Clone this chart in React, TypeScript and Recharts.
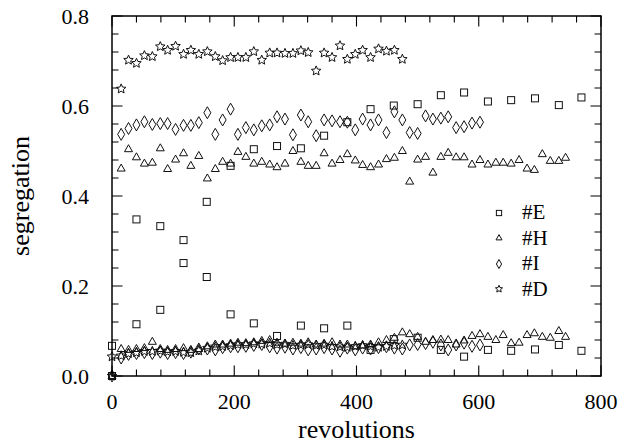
import { ScatterChart, Scatter, XAxis, YAxis, Legend } from 'recharts';

// revolution grid shared by #H, #I, #D
const revs = [
  15, 27, 40, 53, 66, 79, 91, 104, 117, 129, 142, 156, 169, 181, 194, 206, 219, 232, 245, 258,
  270, 283, 296, 309, 321, 334, 347, 360, 373, 385, 398, 410, 423, 436, 449, 462, 475, 487, 500, 513,
  525, 538, 550, 563, 576, 589, 602, 615, 628, 640, 653, 666, 679, 691, 704, 717, 731, 742,
];

const dHigh = [
  0.638, 0.702, 0.695, 0.712, 0.71, 0.732, 0.724, 0.733, 0.715, 0.724, 0.715, 0.721, 0.71, 0.701,
  0.708, 0.708, 0.708, 0.721, 0.702, 0.718, 0.718, 0.717, 0.717, 0.723, 0.719, 0.678, 0.718, 0.708,
  0.734, 0.704, 0.715, 0.724, 0.708, 0.727, 0.722, 0.724, 0.704,
];
const dLow = [
  0.045, 0.05, 0.052, 0.055, 0.055, 0.056, 0.054, 0.055, 0.053, 0.052, 0.056, 0.062, 0.065, 0.066,
  0.068, 0.07, 0.07, 0.072, 0.071, 0.073, 0.07, 0.071, 0.068, 0.069, 0.07, 0.068, 0.069, 0.066,
  0.065, 0.064, 0.066, 0.068, 0.066, 0.064, 0.066, 0.068, 0.069,
];

const iHigh = [
  0.537, 0.55, 0.558, 0.565, 0.559, 0.561, 0.561, 0.548, 0.557, 0.557, 0.563, 0.585, 0.537, 0.569,
  0.593, 0.537, 0.552, 0.547, 0.556, 0.558, 0.576, 0.571, 0.536, 0.58, 0.565, 0.534, 0.569, 0.567,
  0.565, 0.564, 0.547, 0.571, 0.558, 0.569, 0.541, 0.587, 0.569, 0.541, 0.539, 0.578, 0.571, 0.573,
  0.576, 0.552, 0.554, 0.562, 0.564,
];
const iLow = [
  0.04, 0.048, 0.05, 0.052, 0.05, 0.053, 0.05, 0.052, 0.05, 0.053, 0.06, 0.06, 0.058, 0.063, 0.065,
  0.065, 0.066, 0.068, 0.07, 0.065, 0.062, 0.064, 0.06, 0.063, 0.058, 0.06, 0.063, 0.06, 0.055,
  0.062, 0.058, 0.062, 0.06, 0.063, 0.065, 0.062, 0.06, 0.069, 0.07, 0.072, 0.075, 0.069, 0.058,
  0.069, 0.073, 0.066, 0.069,
];

const hHigh = [
  0.461, 0.504, 0.486, 0.472, 0.474, 0.506, 0.46, 0.481, 0.495, 0.467, 0.489, 0.439, 0.46, 0.476,
  0.472, 0.498, 0.487, 0.472, 0.476, 0.47, 0.464, 0.472, 0.5, 0.476, 0.467, 0.467, 0.495, 0.472,
  0.48, 0.493, 0.479, 0.469, 0.464, 0.47, 0.482, 0.485, 0.5, 0.432, 0.481, 0.487, 0.452, 0.487,
  0.496, 0.486, 0.486, 0.47, 0.48, 0.47, 0.474, 0.474, 0.472, 0.48, 0.461, 0.458, 0.493, 0.478,
  0.478, 0.485,
];
const hLow = [
  0.06, 0.058, 0.06, 0.062, 0.076, 0.06, 0.058, 0.06, 0.062, 0.058, 0.06, 0.066, 0.07, 0.07, 0.072,
  0.074, 0.073, 0.075, 0.078, 0.08, 0.074, 0.072, 0.074, 0.072, 0.075, 0.07, 0.072, 0.075, 0.07,
  0.07, 0.066, 0.068, 0.07, 0.075, 0.08, 0.085, 0.097, 0.093, 0.087, 0.076, 0.08, 0.081, 0.08, 0.07,
  0.079, 0.089, 0.093, 0.087, 0.08, 0.091, 0.073, 0.074, 0.091, 0.095, 0.087, 0.085, 0.1, 0.087,
];

// #E sampled on its own coarser grid
const eRevs = [
  0, 40, 79, 117, 155, 194, 232, 270, 309, 347, 385, 423, 461, 500, 538, 576, 615, 653, 692, 731, 768,
];
const eHigh = [
  null, 0.348, 0.333, 0.302, 0.387, 0.467, 0.504, 0.511, 0.506, 0.534, 0.564, 0.593, 0.601, 0.604,
  0.624, 0.63, 0.61, 0.613, 0.617, 0.602, 0.619,
];
const eLow = [
  0.067, 0.115, 0.147, 0.251, 0.22, 0.137, 0.117, 0.089, 0.112, 0.106, 0.112, 0.058, 0.082, 0.085,
  0.058, 0.043, 0.058, 0.056, 0.059, 0.069, 0.056,
];

// values at revolution 0
const startE = [0];
const startH = [0];
const startI = [0];
const startD = [0, 0.043];

const legendNames = ['#E', '#H', '#I', '#D'];
const xTicks = [0, 200, 400, 600, 800];
const yTicks = [0, 0.2, 0.4, 0.6, 0.8];
const xAllTicks = [
  0, 40, 80, 120, 160, 200, 240, 280, 320, 360, 400, 440, 480, 520, 560, 600, 640, 680, 720, 760, 800,
];
const yAllTicks = [
  0, 0.04, 0.08, 0.12, 0.16, 0.2, 0.24, 0.28, 0.32, 0.36, 0.4, 0.44, 0.48, 0.52, 0.56, 0.6, 0.64,
  0.68, 0.72, 0.76, 0.8,
];

const font = "'Liberation Serif', 'Times New Roman', serif";
const tickStyle = { fontFamily: font, fontSize: 22, fill: '#000' };
const PLOT_W = 489;
const PLOT_H = 360;
const X_MARGIN = 17;
const Y_MARGIN = 23;

type Pt = { rev: number; seg: number };

const zip = (xs: number[], ys: (number | null)[]): Pt[] =>
  ys
    .map((y, i) => ({ rev: xs[i], seg: y }))
    .filter((p) => p.seg !== null) as Pt[];

const atZero = (ys: number[]): Pt[] => ys.map((y) => ({ rev: 0, seg: y }));

const seriesE = [...atZero(startE), ...zip(eRevs, eHigh), ...zip(eRevs, eLow)];
const seriesH = [...atZero(startH), ...zip(revs, hHigh), ...zip(revs, hLow)];
const seriesI = [...atZero(startI), ...zip(revs, iHigh), ...zip(revs, iLow)];
const seriesD = [...atZero(startD), ...zip(revs, dHigh), ...zip(revs, dLow)];

const kinds: Record<string, string> = { '#E': 'square', '#H': 'triangle', '#I': 'diamond', '#D': 'star' };

const Marker = ({ kind, cx, cy, s = 1 }: { kind: string; cx: number; cy: number; s?: number }) => {
  const common = { fill: 'none', stroke: '#111', strokeWidth: 1 };
  if (kind === 'square') {
    return <rect x={cx - 3.5 * s} y={cy - 3.5 * s} width={7 * s} height={7 * s} {...common} />;
  }
  if (kind === 'triangle') {
    return (
      <path
        d={`M${cx},${cy - 4.5 * s} L${cx + 4 * s},${cy + 2.5 * s} L${cx - 4 * s},${cy + 2.5 * s} Z`}
        {...common}
      />
    );
  }
  if (kind === 'diamond') {
    return (
      <path
        d={`M${cx},${cy - 6 * s} L${cx + 3.5 * s},${cy} L${cx},${cy + 6 * s} L${cx - 3.5 * s},${cy} Z`}
        {...common}
      />
    );
  }
  const pts: string[] = [];
  for (let k = 0; k < 10; k++) {
    const r = k % 2 === 0 ? 5 * s : 2.3 * s;
    const a = -Math.PI / 2 + (k * Math.PI) / 5;
    pts.push(`${cx + r * Math.cos(a)},${cy + r * Math.sin(a)}`);
  }
  return <polygon points={pts.join(' ')} {...common} />;
};

const LegendBox = () => (
  <div style={{ fontFamily: font, fontSize: 21, color: '#000', lineHeight: 1 }}>
    {legendNames.map((name) => (
      <div key={name} style={{ display: 'flex', alignItems: 'center', height: 25.5 }}>
        <svg width={22} height={20} style={{ marginRight: 11 }}>
          <Marker kind={kinds[name]} cx={10} cy={10} s={0.75} />
        </svg>
        <span>{name}</span>
      </div>
    ))}
  </div>
);

const YLabel = ({ viewBox }: any) => {
  const x = viewBox.x + 20;
  const y = viewBox.y + viewBox.height / 2;
  return (
    <text
      x={x}
      y={y}
      transform={`rotate(-90, ${x}, ${y})`}
      textAnchor='middle'
      dominantBaseline='central'
      style={{ fontFamily: font, fontSize: 26, fill: '#000' }}
    >
      segregation
    </text>
  );
};

// frame plus all inward tick marks, drawn once from the tick at revolution 0
const Frame = ({ x0, yb }: { x0: number; yb: number }) => {
  const yt = yb - PLOT_H;
  const xr = x0 + PLOT_W;
  let d = '';
  xAllTicks.forEach((t) => {
    const len = xTicks.includes(t) ? 10.5 : 6.5;
    const x = x0 + (t / 800) * PLOT_W;
    d += `M${x},${yb}V${yb - len}M${x},${yt}V${yt + len}`;
  });
  yAllTicks.forEach((t) => {
    const len = yTicks.includes(t) ? 10.5 : 6.5;
    const y = yb - (t / 0.8) * PLOT_H;
    d += `M${x0},${y}H${x0 + len}M${xr},${y}H${xr - len}`;
  });
  return (
    <g>
      <path d={d} fill='none' stroke='#000' strokeWidth={1.1} />
      <rect x={x0} y={yt} width={PLOT_W} height={PLOT_H} fill='none' stroke='#000' strokeWidth={1.5} />
    </g>
  );
};

const XTick = (p: any) => {
  const v = p.payload.value;
  const x = Number(p.x);
  const yb = Number(p.y) - X_MARGIN;
  return (
    <g>
      {v === 0 && <Frame x0={x} yb={yb} />}
      {xTicks.includes(v) && (
        <text x={x} y={p.y} dy='0.71em' textAnchor='middle' style={tickStyle}>
          {v}
        </text>
      )}
    </g>
  );
};

const YTick = (p: any) => {
  const v = p.payload.value;
  if (!yTicks.includes(v)) return <g />;
  return (
    <text x={p.x} y={p.y} dy='0.355em' textAnchor='end' style={tickStyle}>
      {v.toFixed(1)}
    </text>
  );
};

const App = () => {
  return (
    <div style={{ position: 'absolute', left: 0, top: 0, width: 630, height: 444, background: '#fff' }}>
      <ScatterChart width={630} height={444} margin={{ top: 16, right: 29, left: 0, bottom: 0 }}>
        <XAxis
          type='number'
          dataKey='rev'
          domain={[0, 800]}
          ticks={xAllTicks}
          interval={0}
          tickLine={false}
          axisLine={false}
          tickSize={0}
          tickMargin={X_MARGIN}
          height={68}
          tick={<XTick />}
          label={{
            value: 'revolutions',
            position: 'insideBottom',
            offset: 6,
            style: { fontFamily: font, fontSize: 26, fill: '#000' },
          }}
        />
        <YAxis
          type='number'
          dataKey='seg'
          domain={[0, 0.8]}
          ticks={yAllTicks}
          interval={0}
          tickLine={false}
          axisLine={false}
          tickSize={0}
          tickMargin={Y_MARGIN}
          width={112}
          tick={<YTick />}
          label={<YLabel />}
        />
        <Legend
          layout='vertical'
          align='center'
          verticalAlign='middle'
          content={<LegendBox />}
          wrapperStyle={{ position: 'absolute', left: 489, top: 200, width: 100 }}
        />
        <Scatter
          name='#E'
          data={seriesE}
          isAnimationActive={false}
          shape={(p: any) => <Marker kind='square' cx={p.cx} cy={p.cy} />}
        />
        <Scatter
          name='#H'
          data={seriesH}
          isAnimationActive={false}
          shape={(p: any) => <Marker kind='triangle' cx={p.cx} cy={p.cy} />}
        />
        <Scatter
          name='#I'
          data={seriesI}
          isAnimationActive={false}
          shape={(p: any) => <Marker kind='diamond' cx={p.cx} cy={p.cy} />}
        />
        <Scatter
          name='#D'
          data={seriesD}
          isAnimationActive={false}
          shape={(p: any) => <Marker kind='star' cx={p.cx} cy={p.cy} />}
        />
      </ScatterChart>
    </div>
  );
};

export default App;
